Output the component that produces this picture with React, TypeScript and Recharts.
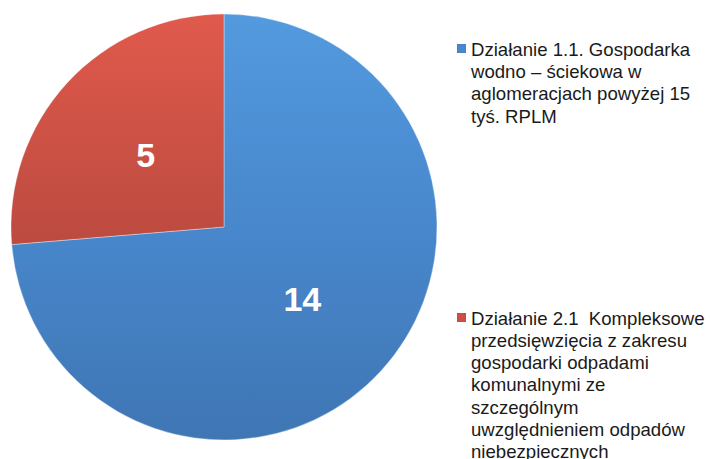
import React from 'react';
import { PieChart, Pie, Cell, Legend } from 'recharts';

const categories = [
  'Działanie 1.1. Gospodarka wodno – ściekowa w aglomeracjach powyżej 15 tyś. RPLM',
  'Działanie 2.1  Kompleksowe przedsięwzięcia z zakresu gospodarki odpadami komunalnymi ze szczególnym uwzględnieniem odpadów niebezpiecznych',
];
const values = [14, 5];
const legendLines = [
  ['Działanie 1.1. Gospodarka', 'wodno – ściekowa w', 'aglomeracjach powyżej 15', 'tyś. RPLM'],
  ['Działanie 2.1  Kompleksowe', 'przedsięwzięcia z zakresu', 'gospodarki odpadami', 'komunalnymi ze', 'szczególnym', 'uwzględnieniem odpadów', 'niebezpiecznych'],
];
const fills = ['url(#gBlue)', 'url(#gRed)'];
const markerColors = ['#4a88cc', '#cc4f43'];

const data = categories.map((name, i) => ({ name, value: values[i] }));

const RAD = Math.PI / 180;

const renderLabel = (props: any) => {
  const { cx, cy, midAngle, outerRadius, value } = props;
  const r = outerRadius * 0.5;
  const x = cx + r * Math.cos(-midAngle * RAD);
  const y = cy + r * Math.sin(-midAngle * RAD);
  return (
    <text
      x={x}
      y={y}
      fill="#ffffff"
      textAnchor="middle"
      dominantBaseline="central"
      fontFamily="'Liberation Sans', Arial, sans-serif"
      fontWeight="bold"
      fontSize={34}
    >
      {value}
    </text>
  );
};

const renderLegend = () => (
  <div style={{ fontFamily: "'Liberation Sans', Arial, sans-serif", fontSize: 18.6, color: '#1a1a1a', lineHeight: '22.2px' }}>
    {legendLines.map((lines, i) => (
      <div key={i} style={{ position: 'relative', paddingLeft: 14, marginBottom: i === 0 ? 180 : 0 }}>
        <div
          style={{
            position: 'absolute',
            left: 0,
            top: 5,
            width: 9,
            height: 9,
            background: markerColors[i],
            boxShadow: 'inset 0 0 1px rgba(0,0,0,0.3)',
          }}
        />
        {lines.map((l, j) => (
          <div key={j} style={{ whiteSpace: 'pre' }}>{l}</div>
        ))}
      </div>
    ))}
  </div>
);

export default function App() {
  return (
    <div style={{ position: 'absolute', left: 0, top: 0, width: 710, height: 459, overflow: 'hidden', background: '#fff' }}>
      <PieChart width={710} height={459} margin={{ top: 0, right: 0, bottom: 0, left: 0 }}>
        <defs>
          <linearGradient id="gBlue" x1="0" y1="14" x2="0" y2="440" gradientUnits="userSpaceOnUse">
            <stop offset="0%" stopColor="#539ade" />
            <stop offset="50%" stopColor="#4887cc" />
            <stop offset="100%" stopColor="#3f76b4" />
          </linearGradient>
          <linearGradient id="gRed" x1="0" y1="14" x2="0" y2="250" gradientUnits="userSpaceOnUse">
            <stop offset="0%" stopColor="#e05a4c" />
            <stop offset="100%" stopColor="#bb4a3f" />
          </linearGradient>
        </defs>
        <Pie
          data={data}
          dataKey="value"
          nameKey="name"
          cx={224}
          cy={227}
          outerRadius={213}
          startAngle={90}
          endAngle={-270}
          stroke="rgba(255,255,255,0.35)"
          strokeWidth={1}
          label={renderLabel}
          labelLine={false}
          isAnimationActive={false}
        >
          {data.map((d, i) => (
            <Cell key={d.name} fill={fills[i]} />
          ))}
        </Pie>
        <Legend
          content={renderLegend}
          layout="vertical"
          verticalAlign="top"
          align="right"
          wrapperStyle={{ position: 'absolute', left: 457, top: 39, width: 253 }}
        />
      </PieChart>
    </div>
  );
}
